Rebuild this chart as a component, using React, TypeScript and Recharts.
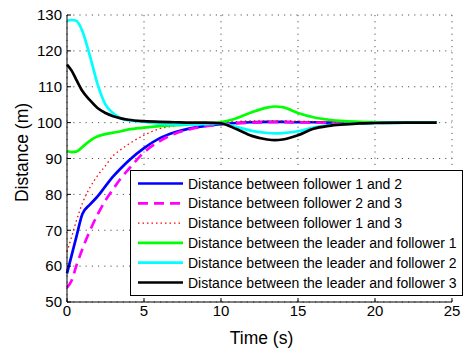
import { LineChart, Line, XAxis, YAxis, CartesianGrid, Legend, Label } from "recharts";

const TIME = [0, 0.3, 0.6, 1, 1.5, 2, 2.5, 3, 3.5, 4, 5, 6, 7, 8, 9, 10, 11, 12, 13, 13.5, 14, 15, 16, 17, 18, 19, 20, 22, 24];

const F1_F2 = [58, 63, 68, 74.5, 77.2, 79.5, 82.3, 85, 87.3, 89.4, 92.9, 95.6, 97.3, 98.4, 99.1, 99.6, 99.9, 100.1, 100.2, 100.2, 100.2, 100.1, 100.1, 100, 100, 100, 100, 100, 100];
const F2_F3 = [54, 56, 60, 64.8, 70, 74.5, 78.3, 81.5, 84.5, 87, 91.7, 94.8, 96.9, 98.2, 99, 99.5, 99.8, 100, 100.1, 100.1, 100.1, 100.1, 100, 100, 100, 100, 100, 100, 100];
const F1_F3 = [64, 68.2, 72.5, 77.5, 82, 85.3, 88, 90.8, 92.5, 94, 96.5, 98.3, 99.1, 99.6, 99.9, 100.1, 100.3, 100.5, 100.5, 100.5, 100.5, 100.4, 100.3, 100.2, 100.1, 100, 100, 100, 100];
const L_F1 = [92.1, 91.8, 91.9, 93.2, 95, 96.2, 96.8, 97.2, 97.6, 98.1, 98.6, 99, 99.3, 99.5, 99.8, 100.1, 101.2, 102.9, 104.2, 104.5, 104.3, 102.7, 101.5, 100.8, 100.4, 100.2, 100.1, 100, 100];
const L_F2 = [128.4, 128.6, 128.4, 125.5, 118.4, 110.5, 105, 102.6, 101.2, 100.6, 100.2, 99.7, 99.5, 99.5, 99.6, 99.7, 98.8, 97.7, 97.1, 97, 97.1, 97.6, 98.6, 99.3, 99.6, 99.8, 99.9, 100, 100];
const L_F3 = [116.2, 114.5, 112, 108.8, 106.2, 104, 102.7, 101.8, 101.2, 100.8, 100.4, 100.2, 100.1, 100, 100, 99.8, 98.2, 96.3, 95.3, 95.1, 95.3, 96.5, 98.3, 99.1, 99.5, 99.8, 99.9, 100, 100];

const X_TICKS = [0, 5, 10, 15, 20, 25];
const Y_TICKS = [50, 60, 70, 80, 90, 100, 110, 120, 130];

const SERIES = [
  { key: "f12", name: "Distance between follower 1 and 2", color: "#0000FF", dash: undefined, width: 2.7 },
  { key: "f23", name: "Distance between follower 2 and 3", color: "#FF00FF", dash: "10 6", width: 2.7 },
  { key: "f13", name: "Distance between follower 1 and 3", color: "#FF0000", dash: "1.5 3", width: 1.3 },
  { key: "lf1", name: "Distance between the leader and follower 1", color: "#00FF00", dash: undefined, width: 2.7 },
  { key: "lf2", name: "Distance between the leader and follower 2", color: "#00FFFF", dash: undefined, width: 2.7 },
  { key: "lf3", name: "Distance between the leader and follower 3", color: "#000000", dash: undefined, width: 2.7 },
];

const data = TIME.map((t, i) => ({
  t,
  f12: F1_F2[i],
  f23: F2_F3[i],
  f13: F1_F3[i],
  lf1: L_F1[i],
  lf2: L_F2[i],
  lf3: L_F3[i],
}));

const FONT = "'Liberation Sans', Arial, sans-serif";

function LegendBox() {
  return (
    <svg width={333} height={126} style={{ display: "block", background: "#fff" }}>
      <rect x={0.5} y={0.5} width={332} height={125} fill="#fff" stroke="#000" strokeWidth={1} />
      {SERIES.map((s, i) => {
        const cy = 13.5 + i * 19.8;
        return (
          <g key={s.key}>
            <line x1={8} x2={53} y1={cy} y2={cy} stroke={s.color} strokeWidth={s.width} strokeDasharray={s.dash} />
            <text x={58} y={cy + 5} fontSize={14} fontFamily={FONT} fill="#000">
              {s.name}
            </text>
          </g>
        );
      })}
    </svg>
  );
}

const noTick = () => <g />;

export default function App() {
  return (
    <div style={{ position: "absolute", left: 0, top: 0, width: 470, height: 354, background: "#fff" }}>
      <LineChart width={470} height={354} data={data} margin={{ top: 15, right: 18, bottom: 0, left: 0 }}>
        <CartesianGrid stroke="#555" strokeDasharray="1.2 5" />
        <XAxis
          dataKey="t"
          type="number"
          domain={[0, 25]}
          ticks={X_TICKS}
          height={52}
          stroke="#000"
          tickSize={-4}
          tickMargin={7}
          tick={{ fontSize: 15, fill: "#000", fontFamily: FONT }}
        >
          <Label
            content={({ viewBox }: any) => (
              <text x={viewBox.x + viewBox.width / 2 + 2} y={viewBox.y + 42} textAnchor="middle" fontSize={17.5} fontFamily={FONT} fill="#000">
                Time (s)
              </text>
            )}
          />
        </XAxis>
        <XAxis xAxisId="top" orientation="top" dataKey="t" type="number" domain={[0, 25]} ticks={X_TICKS} height={0} stroke="#000" tickSize={-4} tick={noTick} />
        <YAxis
          type="number"
          domain={[50, 130]}
          ticks={Y_TICKS}
          width={67}
          stroke="#000"
          tickSize={-4}
          tickMargin={9}
          tick={{ fontSize: 15, fill: "#000", fontFamily: FONT }}
        >
          <Label
            content={({ viewBox }: any) => {
              const x = 28;
              const y = viewBox.y + viewBox.height / 2 - 6;
              return (
                <text x={x} y={y} textAnchor="middle" transform={`rotate(-90, ${x}, ${y})`} fontSize={17.5} fontFamily={FONT} fill="#000">
                  Distance (m)
                </text>
              );
            }}
          />
        </YAxis>
        <YAxis yAxisId="right" orientation="right" type="number" domain={[50, 130]} ticks={Y_TICKS} width={0} stroke="#000" tickSize={-4} tick={noTick} />
        {SERIES.map((s) => (
          <Line
            key={s.key}
            dataKey={s.key}
            name={s.name}
            type="monotone"
            stroke={s.color}
            strokeWidth={s.width}
            strokeDasharray={s.dash}
            dot={false}
            activeDot={false}
            isAnimationActive={false}
          />
        ))}
        <Legend
          layout="vertical"
          align="center"
          verticalAlign="middle"
          content={() => <LegendBox />}
          wrapperStyle={{ left: 130, top: 170, width: 333, height: 126 }}
        />
      </LineChart>
    </div>
  );
}
